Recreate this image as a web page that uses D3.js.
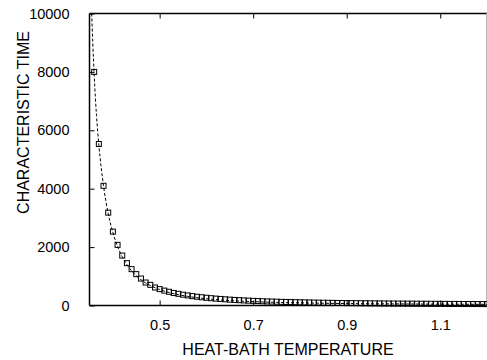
<!DOCTYPE html>
<html>
<head>
<meta charset="utf-8">
<script src="https://cdn.jsdelivr.net/npm/d3@7"></script>
<style>
  html, body { margin: 0; padding: 0; background: #fff; }
  svg { display: block; }
  text { font-family: "Liberation Sans", Arial, Helvetica, sans-serif; fill: #000; }
</style>
</head>
<body>
<svg id="chart" width="487" height="360"></svg>
<script>
// Measured characteristic time at each heat-bath temperature
const temperatures = [
  0.36, 0.37, 0.38, 0.39, 0.40, 0.41, 0.42, 0.43, 0.44, 0.45,
  0.46, 0.47, 0.48, 0.49, 0.50, 0.51, 0.52, 0.53, 0.54, 0.55,
  0.56, 0.57, 0.58, 0.59, 0.60, 0.61, 0.62, 0.63, 0.64, 0.65,
  0.66, 0.67, 0.68, 0.69, 0.70, 0.71, 0.72, 0.73, 0.74, 0.75,
  0.76, 0.77, 0.78, 0.79, 0.80, 0.81, 0.82, 0.83, 0.84, 0.85,
  0.86, 0.87, 0.88, 0.89, 0.90, 0.91, 0.92, 0.93, 0.94, 0.95,
  0.96, 0.97, 0.98, 0.99, 1.00, 1.01, 1.02, 1.03, 1.04, 1.05,
  1.06, 1.07, 1.08, 1.09, 1.10, 1.11, 1.12, 1.13, 1.14, 1.15,
  1.16, 1.17, 1.18, 1.19, 1.20
];
const times = [
  8000, 5530, 4100, 3180, 2530, 2076, 1710, 1450, 1245, 1074,
  923, 787, 708, 616, 561, 510, 470, 430, 400, 370,
  345, 320, 300, 282, 265, 250, 236, 224, 212, 201,
  191, 182, 174, 166, 159, 152, 146, 140, 135, 130,
  125, 121, 117, 113, 109, 106, 103, 100, 97, 94,
  92, 89, 87, 85, 83, 81, 79, 77, 76, 74,
  72, 71, 69, 68, 67, 65, 64, 63, 62, 61,
  60, 59, 58, 57, 56, 55, 54, 54, 53, 52,
  51, 51, 50, 49, 49
];

// Fitted curve (dashed line)
const fitTemperatures = [
  0.3547, 0.357, 0.36, 0.365, 0.37, 0.38, 0.39, 0.40, 0.41, 0.42,
  0.43, 0.44, 0.45, 0.46, 0.47, 0.48, 0.49, 0.50, 0.52, 0.54,
  0.56, 0.58, 0.60, 0.65, 0.70, 0.75, 0.80, 0.85, 0.90, 0.95,
  1.00, 1.05, 1.10, 1.15, 1.20
];
const fitTimes = [
  10000, 9000, 7900, 6500, 5500, 4100, 3150, 2500, 2020, 1670,
  1400, 1190, 1020, 885, 775, 685, 610, 545, 445, 370,
  312, 268, 233, 170, 132, 107, 90, 78, 68, 61,
  55, 50, 46, 43, 40
];

const xTicks = [0.5, 0.7, 0.9, 1.1];
const yTicks = [0, 2000, 4000, 6000, 8000, 10000];

const xTitle = "HEAT-BATH TEMPERATURE";
const yTitle = "CHARACTERISTIC TIME";

const svg = d3.select("#chart");
const plotLeft = 89.5, plotRight = 487, plotTop = 13.5, plotBottom = 305.5;

const x = d3.scaleLinear().domain([0.35, 1.2]).range([plotLeft, plotRight]);
const y = d3.scaleLinear().domain([0, 10000]).range([plotBottom, plotTop]);

// Frame
svg.append("line").attr("x1", plotLeft).attr("x2", plotLeft).attr("y1", plotTop).attr("y2", plotBottom)
  .attr("stroke", "#000").attr("stroke-width", 1.5);
svg.append("line").attr("x1", plotLeft).attr("x2", plotRight).attr("y1", plotBottom).attr("y2", plotBottom)
  .attr("stroke", "#000").attr("stroke-width", 1.5);
svg.append("line").attr("x1", plotLeft).attr("x2", plotRight).attr("y1", plotTop).attr("y2", plotTop)
  .attr("stroke", "#000").attr("stroke-width", 1.5);
svg.append("line").attr("x1", 486.5).attr("x2", 486.5).attr("y1", plotTop).attr("y2", plotBottom)
  .attr("stroke", "#bbb").attr("stroke-width", 1);

// Axes with inward ticks
const xAxis = svg.append("g").attr("transform", `translate(0,${plotBottom})`)
  .call(d3.axisBottom(x).tickValues(xTicks).tickSize(-5).tickPadding(14)
    .tickFormat(d3.format(".1f")));
const xAxisTop = svg.append("g").attr("transform", `translate(0,${plotTop})`)
  .call(d3.axisTop(x).tickValues(xTicks).tickSize(-5).tickFormat(""));
const yAxis = svg.append("g").attr("transform", `translate(${plotLeft},0)`)
  .call(d3.axisLeft(y).tickValues(yTicks).tickSize(-5).tickPadding(20)
    .tickFormat(d3.format("d")));

[xAxis, xAxisTop, yAxis].forEach(g => {
  g.select(".domain").remove();
  g.selectAll(".tick line").attr("stroke", "#000").attr("stroke-width", 1);
  g.selectAll(".tick text").attr("font-size", 14.5)
    .attr("font-family", "'Liberation Sans', Arial, sans-serif").attr("fill", "#000");
});

// Dashed fit curve
const line = d3.line()
  .x((d, i) => x(fitTemperatures[i]))
  .y(d => y(d))
  .curve(d3.curveMonotoneX);
svg.append("path")
  .attr("d", line(fitTimes))
  .attr("fill", "none")
  .attr("stroke", "#000")
  .attr("stroke-width", 1)
  .attr("stroke-dasharray", "3,2");

// Data squares
const sq = 5;
svg.append("g").selectAll("rect")
  .data(times)
  .join("rect")
  .attr("x", (d, i) => x(temperatures[i]) - sq / 2)
  .attr("y", d => y(d) - sq / 2)
  .attr("width", sq)
  .attr("height", sq)
  .attr("fill", "none")
  .attr("stroke", "#000")
  .attr("stroke-width", 1);

// Axis titles
svg.append("text")
  .attr("x", 288).attr("y", 355)
  .attr("text-anchor", "middle")
  .attr("font-size", 16)
  .text(xTitle);
svg.append("text")
  .attr("transform", "translate(28.5,122.5) rotate(-90)")
  .attr("text-anchor", "middle")
  .attr("font-size", 16)
  .text(yTitle);
</script>
</body>
</html>
